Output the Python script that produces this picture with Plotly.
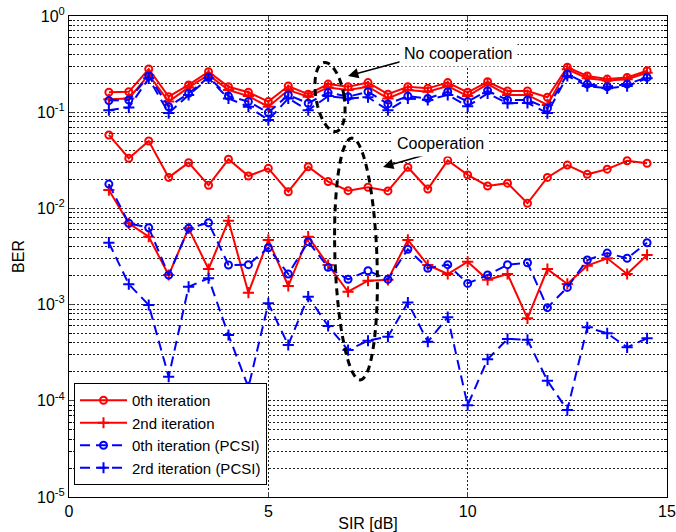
import math
import plotly.graph_objects as go

# SIR axis values [dB]
sir = [1, 1.5, 2, 2.5, 3, 3.5, 4, 4.5, 5, 5.5, 6, 6.5, 7, 7.5,
       8, 8.5, 9, 9.5, 10, 10.5, 11, 11.5, 12, 12.5, 13, 13.5, 14, 14.5]

# no cooperation
nc_it0 = [0.161, 0.163, 0.281, 0.145, 0.192, 0.264, 0.184, 0.161, 0.129, 0.187,
          0.154, 0.196, 0.184, 0.203, 0.154, 0.184, 0.177, 0.203, 0.161, 0.207,
          0.166, 0.166, 0.143, 0.293, 0.238, 0.221, 0.230, 0.270]
nc_it2 = [0.136, 0.139, 0.244, 0.129, 0.181, 0.244, 0.170, 0.147, 0.114, 0.170,
          0.145, 0.181, 0.170, 0.184, 0.139, 0.170, 0.163, 0.187, 0.147, 0.196,
          0.151, 0.151, 0.119, 0.279, 0.225, 0.213, 0.220, 0.257]
nc_pcsi0 = [0.132, 0.134, 0.238, 0.114, 0.157, 0.231, 0.147, 0.129, 0.099, 0.151,
            0.124, 0.160, 0.145, 0.163, 0.122, 0.147, 0.139, 0.163, 0.129, 0.167,
            0.134, 0.134, 0.110, 0.249, 0.196, 0.184, 0.196, 0.230]
nc_pcsi2 = [0.105, 0.112, 0.225, 0.098, 0.151, 0.225, 0.139, 0.114, 0.083, 0.139,
            0.105, 0.147, 0.139, 0.143, 0.105, 0.139, 0.134, 0.151, 0.115, 0.157,
            0.124, 0.125, 0.098, 0.238, 0.187, 0.177, 0.187, 0.225]

# cooperation
c_it0 = [0.058, 0.0332, 0.0502, 0.021, 0.0299, 0.0174, 0.0324, 0.0217, 0.0261, 0.0149,
         0.0271, 0.019, 0.0153, 0.0166, 0.0152, 0.0268, 0.0159, 0.0316, 0.0223, 0.0171,
         0.0183, 0.0113, 0.021, 0.0282, 0.0226, 0.0256, 0.0313, 0.0295]
c_it2 = [0.0155, 0.0070, 0.00508, 0.00203, 0.0062, 0.00234, 0.00745, 0.00133, 0.0047, 0.00156,
         0.00508, 0.00258, 0.00136, 0.00177, 0.00181, 0.0047, 0.00258, 0.00208, 0.00279, 0.00181,
         0.00208, 0.00072, 0.00234, 0.00164, 0.00254, 0.00303, 0.00208, 0.00328]
c_pcsi0 = [0.0179, 0.0070, 0.0063, 0.00203, 0.0062, 0.0071, 0.00258, 0.0026, 0.0039, 0.00208,
           0.00451, 0.00244, 0.00183, 0.00225, 0.00183, 0.00376, 0.00239, 0.0026, 0.00166, 0.00203,
           0.0026, 0.00272, 0.00093, 0.00151, 0.00291, 0.00343, 0.00303, 0.0044]
c_pcsi2 = [0.0044, 0.00163, 0.00099, 0.000178, 0.00153, 0.00188, 0.000483, 0.000138, 0.00103, 0.00038,
           0.00121, 0.0006, 0.000337, 0.000421, 0.000464, 0.00105, 0.000411, 0.00074, 0.00009, 0.00027,
           0.000439, 0.00043, 0.000162, 0.00008, 0.00058, 0.000503, 0.00036, 0.000446]

labels = ['0th iteration', '2nd iteration', '0th iteration (PCSI)', '2rd iteration (PCSI)']

y_ticks = [1e-5, 1e-4, 1e-3, 1e-2, 1e-1, 1]
y_ticktext = ['10<sup>-5</sup>', '10<sup>-4</sup>', '10<sup>-3</sup>',
              '10<sup>-2</sup>', '10<sup>-1</sup>', '10<sup>0</sup>']
y_minor = [k * 10.0 ** e for e in range(-5, 0) for k in range(2, 10)]

FONT = 'Arial, Liberation Sans, sans-serif'
RED = '#ff0000'
BLUE = '#0000ff'

styles = [
    dict(color=RED, dash='solid', symbol='circle-open', size=7),
    dict(color=RED, dash='solid', symbol='cross-thin-open', size=8),
    dict(color=BLUE, dash='10px,6px', symbol='circle-open', size=7),
    dict(color=BLUE, dash='10px,6px', symbol='cross-thin-open', size=8),
]

fig = go.Figure()

groups = [(nc_it0, nc_it2, nc_pcsi0, nc_pcsi2), (c_it0, c_it2, c_pcsi0, c_pcsi2)]
for g, series in enumerate(groups):
    for i, vals in enumerate(series):
        st = styles[i]
        fig.add_trace(go.Scatter(
            x=sir, y=vals, mode='lines+markers', name=labels[i],
            legendgroup=labels[i], showlegend=(g == 1),
            line=dict(color=st['color'], width=2, dash=st['dash']),
            marker=dict(symbol=st['symbol'], size=st['size'], color=st['color'],
                        line=dict(color=st['color'], width=2)),
        ))

W, H = 676, 532
# plot area in pixels
PX0, PW, PY0, PH = 69, 598, 16, 481


def to_paper(px, py):
    return (px - PX0) / PW, (PY0 + PH - py) / PH


def ellipse_path(cx, cy, rx, ry, tilt_deg, n=72):
    t = math.radians(tilt_deg)
    pts = []
    for k in range(n + 1):
        a = 2 * math.pi * k / n
        dx = rx * math.cos(a)
        dy = ry * math.sin(a)
        px = cx + dx * math.cos(t) - dy * math.sin(t)
        py = cy + dx * math.sin(t) + dy * math.cos(t)
        pts.append(to_paper(px, py))
    return 'M ' + ' L '.join(f'{x:.4f},{y:.4f}' for x, y in pts) + ' Z'


for cx, cy, rx, ry, tilt in [(330, 97, 14, 35, -10), (356, 259, 21, 121, -2)]:
    fig.add_shape(type='path', xref='paper', yref='paper',
                  path=ellipse_path(cx, cy, rx, ry, tilt),
                  line=dict(color='black', width=3, dash='7px,5px'))

# arrows
for hx, hy, ax, ay in [(348, 76, 84, -23), (383, 167, 83, -24)]:
    px, py = to_paper(hx, hy)
    fig.add_annotation(x=px, y=py, xref='paper', yref='paper', text='',
                       showarrow=True, ax=ax, ay=ay, arrowhead=2, arrowsize=1.3,
                       arrowwidth=1.6, arrowcolor='black')

for txt, tx, ty in [('No cooperation', 458, 40), ('Cooperation', 489, 130)]:
    px, py = to_paper(tx, ty)
    fig.add_annotation(x=px, y=py, xref='paper', yref='paper', text=txt,
                       showarrow=False, bgcolor='white', borderpad=4,
                       font=dict(family=FONT, size=16, color='black'))

grid = dict(showgrid=True, gridcolor='#222222', gridwidth=1, griddash='2px,2px')

fig.update_layout(
    width=W, height=H,
    margin=dict(l=PX0, r=W - PX0 - PW, t=PY0, b=H - PY0 - PH),
    paper_bgcolor='white', plot_bgcolor='white',
    font=dict(family=FONT, size=16, color='black'),
    xaxis=dict(range=[0, 15], tickvals=[0, 5, 10, 15], ticks='inside', ticklen=5,
               showline=True, linecolor='black', linewidth=1, mirror='ticks',
               zeroline=False, automargin=False, ticklabeloverflow='allow',
               title=dict(text='SIR [dB]', standoff=2, font=dict(size=16)),
               tickfont=dict(size=16), **grid),
    yaxis=dict(type='log', range=[-5, 0], tickvals=y_ticks, ticktext=y_ticktext,
               ticks='inside', ticklen=5, showline=True, linecolor='black', linewidth=1,
               mirror='ticks', zeroline=False, automargin=False, ticklabeloverflow='allow',
               title=dict(text='BER', standoff=8, font=dict(size=16)),
               tickfont=dict(size=16),
               minor=dict(tickvals=y_minor, ticks='inside', ticklen=3, tickcolor='black',
                          showgrid=True, gridcolor='#222222', gridwidth=1, griddash='2px,2px'),
               **grid),
    legend=dict(x=to_paper(74, 0)[0], y=to_paper(0, 485)[1], xanchor='left', yanchor='bottom',
                bgcolor='white', bordercolor='black', borderwidth=1, itemwidth=47,
                font=dict(family=FONT, size=15), tracegroupgap=0),
    showlegend=True,
)

# drop the default 8px body margin so the figure fills the window
fig.write_html('out.html', config={'displayModeBar': False},
               post_script="document.body.style.margin='0';")
